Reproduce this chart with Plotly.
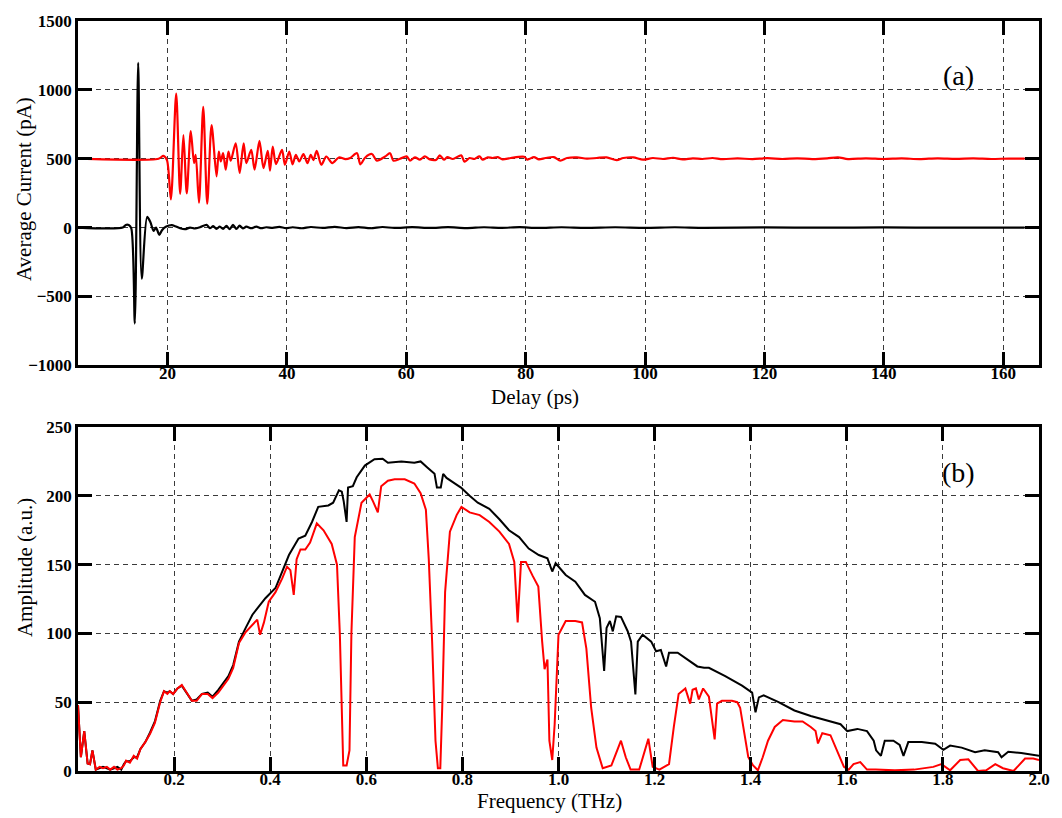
import plotly.graph_objects as go

# ---------------- (a) time-domain waveforms: (delay ps, current pA) ----------------
reference_pulse = [
    (5.0, 0), (12.5, 0), (13.0, 19), (13.5, 18), (13.92, -5), (14.52, -697),
    (15.08, 1196), (15.68, -372), (16.58, 77), (17.12, 40), (17.67, -24), (18.07, 0),
    (18.62, -53), (19.07, -19), (19.79, 7), (20.73, 17), (21.28, 10), (22.1, -5),
    (22.94, -12), (23.77, 0), (24.6, -7), (25.43, 2), (26.55, 19), (27.1, -5),
    (27.65, 10), (28.2, -10), (28.76, 7), (29.3, -10), (29.87, 12), (30.42, -12),
    (30.97, 19), (31.53, -10), (32.08, 14), (32.63, -7), (33.2, 7), (34.03, -5),
    (34.86, 7), (35.69, -5), (36.52, 2), (37.62, -2), (38.73, 5), (39.84, -5),
    (40.94, 2), (42.5, -5), (44.0, 4), (46.0, -3), (48.0, 5), (50.0, -4), (52.0, 3),
    (54.0, -5), (56.0, 4), (58.0, -3), (61.0, 3), (64.0, -3), (67.0, 3), (70.0, -4),
    (73.0, 2), (76.0, -2), (79.0, 3), (82.0, -3), (86.0, 2), (90.0, -2), (95.0, 2),
    (100.0, -2), (105.0, 2), (110.0, -2), (120.0, 1), (130.0, -1), (140.0, 1),
    (150.0, -1), (163.6, 0),
]

sample_pulse = [
    (5.0, 500), (18.5, 500), (19.3, 520), (19.9, 490), (20.56, 204), (21.45, 972),
    (22.11, 245), (22.66, 672), (23.22, 248), (23.89, 701), (24.44, 468), (24.72, 528),
    (25.27, 180), (25.98, 876), (26.65, 173), (27.38, 744), (28.21, 372), (28.59, 552),
    (28.92, 480), (29.31, 540), (29.75, 420), (30.2, 552), (30.58, 485), (31.42, 612),
    (32.08, 396), (32.75, 612), (33.2, 468), (34.02, 564), (34.58, 420), (35.4, 629),
    (36.07, 432), (36.79, 557), (37.17, 413), (37.62, 588), (38.17, 461), (39.17, 564),
    (39.67, 456), (40.39, 552), (40.95, 459), (41.5, 528), (42.06, 480), (42.77, 533),
    (43.44, 468), (43.99, 528), (44.44, 490), (44.99, 557), (45.77, 456), (46.6, 516),
    (47.6, 468), (48.7, 509), (49.8, 497), (50.6, 505), (51.74, 540), (52.3, 459),
    (53.13, 509), (54.24, 534), (55.07, 486), (56.46, 516), (57.29, 540), (57.84, 486),
    (58.96, 500), (60.05, 517), (60.62, 486), (61.45, 510), (62.28, 493), (63.11, 517),
    (63.94, 495), (65.04, 493), (65.6, 524), (66.32, 493), (66.87, 512), (67.81, 498),
    (69.2, 524), (69.76, 478), (70.59, 505), (71.42, 498), (72.25, 517), (72.8, 493),
    (73.63, 510), (74.46, 505), (75.29, 512), (76.12, 495), (77.5, 505), (79.73, 514),
    (80.28, 493), (81.39, 512), (82.22, 495), (83.32, 505), (84.72, 512), (85.81, 486),
    (86.93, 505), (88.59, 510), (90.25, 500), (91.91, 505), (93.57, 510), (95.24, 490),
    (96.35, 505), (98.01, 510), (99.67, 493), (101.3, 505), (103.0, 498), (104.7, 507),
    (106.3, 495), (108.0, 503), (109.6, 498), (111.3, 505), (113.0, 497), (115.5, 502),
    (118.0, 497), (120.5, 504), (123.0, 498), (125.5, 503), (128.0, 497), (130.5, 502),
    (132.3, 510), (134.0, 497), (137.0, 503), (140.0, 498), (143.0, 502), (146.0, 497),
    (149.0, 503), (152.0, 499), (155.0, 502), (158.0, 498), (161.0, 501), (163.6, 500),
]

# ---------------- (b) amplitude spectra: (frequency THz, amplitude a.u.) ----------------
reference_spectrum = [
    (0.0, 48), (0.006, 10), (0.013, 29), (0.02, 5.5), (0.025, 5), (0.03, 15),
    (0.037, 1), (0.045, 2), (0.052, 3), (0.06, 2), (0.067, 1), (0.075, 2), (0.082, 3),
    (0.09, 1), (0.0955, 5), (0.1, 7), (0.108, 7), (0.116, 10), (0.123, 10), (0.13, 16),
    (0.14, 21), (0.15, 28), (0.16, 36), (0.171, 51), (0.179, 58), (0.186, 57),
    (0.191, 58), (0.198, 56), (0.207, 60), (0.216, 62), (0.226, 57), (0.237, 51),
    (0.247, 52), (0.258, 56), (0.27, 57), (0.28, 54), (0.292, 59), (0.302, 64),
    (0.313, 69), (0.323, 77), (0.335, 94), (0.349, 104), (0.363, 113.6), (0.39, 125.6),
    (0.411, 133), (0.425, 145), (0.439, 157), (0.459, 169), (0.473, 171), (0.487, 181),
    (0.5, 192), (0.521, 193), (0.531, 195), (0.543, 204), (0.549, 203), (0.553, 196),
    (0.559, 181), (0.562, 206), (0.572, 207), (0.58, 213.5), (0.597, 222),
    (0.617, 226.6), (0.634, 227), (0.645, 224), (0.673, 225), (0.7, 224), (0.713, 225),
    (0.727, 220.6), (0.742, 216), (0.747, 206), (0.755, 206), (0.76, 216), (0.767, 213),
    (0.78, 210), (0.797, 206), (0.815, 200), (0.832, 195), (0.856, 190.5), (0.877, 183),
    (0.897, 175), (0.918, 170), (0.938, 161.7), (0.959, 157), (0.977, 154.6),
    (0.987, 145), (0.994, 151), (1.015, 142.5), (1.035, 137.6), (1.055, 128),
    (1.076, 123), (1.086, 111), (1.095, 72.7), (1.1, 104), (1.107, 109), (1.113, 101.5),
    (1.12, 112.4), (1.13, 112), (1.144, 101.6), (1.151, 94), (1.16, 55.7), (1.165, 94),
    (1.175, 99), (1.193, 94), (1.203, 87), (1.213, 88), (1.224, 76), (1.23, 86),
    (1.248, 86), (1.268, 81), (1.289, 76), (1.303, 75), (1.313, 75), (1.347, 69),
    (1.382, 62), (1.403, 57), (1.41, 42.6), (1.417, 53.5), (1.427, 55), (1.458, 50),
    (1.491, 44), (1.525, 40), (1.56, 36.6), (1.587, 34), (1.601, 29), (1.622, 30.6),
    (1.642, 29), (1.656, 22), (1.661, 15), (1.671, 11), (1.679, 22), (1.697, 22),
    (1.71, 19), (1.718, 11), (1.728, 21), (1.756, 21), (1.784, 19.8), (1.801, 15.4),
    (1.815, 18.5), (1.839, 17), (1.867, 13.7), (1.887, 15), (1.915, 13.7), (1.922, 10),
    (1.936, 14), (1.963, 13), (2.0, 11),
]

sample_spectrum = [
    (0.0, 48), (0.006, 10), (0.013, 29), (0.02, 5.5), (0.025, 5), (0.03, 15),
    (0.037, 1), (0.045, 3), (0.052, 2), (0.06, 3), (0.067, 1), (0.075, 3), (0.082, 1),
    (0.09, 2), (0.0955, 4), (0.1, 7.5), (0.108, 6), (0.116, 11), (0.123, 9), (0.13, 16),
    (0.14, 21), (0.15, 27), (0.16, 35), (0.171, 50), (0.179, 58), (0.186, 56),
    (0.191, 58), (0.198, 56), (0.207, 60), (0.216, 62.5), (0.226, 57), (0.237, 51),
    (0.247, 51), (0.258, 56), (0.27, 56), (0.28, 53), (0.292, 57), (0.302, 62),
    (0.313, 67), (0.323, 75), (0.335, 93), (0.349, 101), (0.363, 106), (0.373, 110),
    (0.379, 99), (0.387, 108), (0.397, 123), (0.411, 130), (0.425, 140), (0.435, 148.5),
    (0.442, 146), (0.449, 128), (0.455, 154), (0.463, 161), (0.473, 161), (0.483, 166),
    (0.497, 180), (0.511, 175), (0.528, 165), (0.539, 150), (0.545, 99), (0.552, 4),
    (0.559, 4), (0.565, 15), (0.569, 100), (0.576, 170), (0.59, 195), (0.607, 201),
    (0.614, 196), (0.624, 188), (0.631, 207), (0.645, 211), (0.659, 212), (0.68, 212),
    (0.7, 209), (0.713, 202), (0.724, 190), (0.73, 154), (0.737, 94), (0.744, 22),
    (0.749, 2), (0.754, 2), (0.758, 46), (0.764, 130), (0.774, 174), (0.788, 186),
    (0.798, 192), (0.815, 188), (0.836, 186), (0.856, 181), (0.877, 174), (0.897, 165),
    (0.908, 152), (0.915, 108), (0.922, 152), (0.932, 152), (0.946, 142), (0.958, 134),
    (0.966, 94), (0.971, 74), (0.977, 81), (0.981, 22), (0.987, 8), (0.992, 34),
    (1.0, 99), (1.015, 109), (1.035, 109), (1.049, 108), (1.058, 89), (1.068, 46),
    (1.079, 17), (1.092, 2), (1.11, 4), (1.12, 13), (1.13, 22), (1.14, 10), (1.15, 1),
    (1.168, 1), (1.179, 15), (1.187, 23.5), (1.196, 3), (1.21, 1), (1.22, 3), (1.23, 5),
    (1.24, 32), (1.25, 56), (1.264, 60), (1.274, 49), (1.279, 59), (1.286, 60),
    (1.292, 52), (1.301, 60), (1.313, 54), (1.321, 32), (1.325, 23), (1.33, 49),
    (1.34, 51), (1.361, 51), (1.372, 50), (1.378, 46), (1.385, 32), (1.395, 10),
    (1.405, 4), (1.415, 0.5), (1.425, 10), (1.436, 22), (1.45, 32), (1.467, 37),
    (1.491, 36), (1.508, 36), (1.525, 32), (1.535, 29), (1.54, 20), (1.549, 27.5),
    (1.566, 26), (1.58, 15), (1.594, 3), (1.604, 1), (1.614, 5), (1.628, 6.5),
    (1.642, 1), (1.66, 1), (1.7, 0.5), (1.74, 1), (1.78, 3), (1.797, 5), (1.815, 0.5),
    (1.836, 8), (1.853, 8.5), (1.873, 0), (1.89, 0.5), (1.909, 5), (1.925, 2),
    (1.947, 0), (1.971, 9), (1.988, 9), (2.0, 8),
]

delay_ticks = [20, 40, 60, 80, 100, 120, 140, 160]
current_ticks = [-1000, -500, 0, 500, 1000, 1500]
freq_ticks = [0.2, 0.4, 0.6, 0.8, 1.0, 1.2, 1.4, 1.6, 1.8, 2.0]
freq_tick_text = ["0.2", "0.4", "0.6", "0.8", "1.0", "1.2", "1.4", "1.6", "1.8", "2.0"]
amp_ticks = [0, 50, 100, 150, 200, 250]

SERIF = "Liberation Serif"
BLACK = "#000000"
RED = "#ff0000"


def unzip(pairs):
    return [p[0] for p in pairs], [p[1] for p in pairs]


fig = go.Figure()

t_ref, i_ref = unzip(reference_pulse)
t_smp, i_smp = unzip(sample_pulse)
f_ref, a_ref = unzip(reference_spectrum)
f_smp, a_smp = unzip(sample_spectrum)

# waveforms are drawn as smooth curves through the sampled extrema
wave_line = dict(width=2.2, shape="spline", smoothing=0.8)
fig.add_trace(go.Scatter(x=t_ref, y=i_ref, mode="lines", line=dict(wave_line, color=BLACK),
                         xaxis="x", yaxis="y", showlegend=False))
fig.add_trace(go.Scatter(x=t_smp, y=i_smp, mode="lines", line=dict(wave_line, color=RED),
                         xaxis="x", yaxis="y", showlegend=False))
fig.add_trace(go.Scatter(x=f_ref, y=a_ref, mode="lines", line=dict(color=BLACK, width=2),
                         xaxis="x2", yaxis="y2", showlegend=False))
fig.add_trace(go.Scatter(x=f_smp, y=a_smp, mode="lines", line=dict(color=RED, width=2),
                         xaxis="x2", yaxis="y2", showlegend=False))

axis_style = dict(
    showline=True, linecolor=BLACK, linewidth=2.5, mirror="ticks",
    ticks="inside", ticklen=14, tickwidth=2.5, tickcolor=BLACK,
    showgrid=True, gridcolor="#3a3a3a", gridwidth=1, griddash="5px,4px",
    zeroline=False,
    tickfont=dict(family=SERIF, size=17, color=BLACK, weight="bold"),
)

fig.update_layout(
    width=1062, height=818,
    margin=dict(l=78, r=15, t=15, b=47),
    paper_bgcolor="white", plot_bgcolor="white",
    xaxis=dict(axis_style, domain=[0, 1], range=[5, 166], anchor="y",
               tickvals=delay_ticks, ticklabelstandoff=-9),
    yaxis=dict(axis_style, domain=[0.541, 1], range=[-1000, 1500], anchor="x",
               tickvals=current_ticks),
    xaxis2=dict(axis_style, domain=[0, 1], range=[0, 2.0], anchor="y2",
                tickvals=freq_ticks, ticktext=freq_tick_text, ticklabelstandoff=-9),
    yaxis2=dict(axis_style, domain=[0, 0.4586], range=[0, 250], anchor="x2",
                tickvals=amp_ticks),
)

title_font = dict(family=SERIF, size=21, color=BLACK)
labels = [
    dict(text="Delay (ps)", x=0.4752, y=0.4985, textangle=0),
    dict(text="Frequency (THz)", x=0.4902, y=-0.0397, textangle=0),
    dict(text="Average Current (pA)", x=-0.0568, y=0.7765, textangle=-90),
    dict(text="Amplitude (a.u.)", x=-0.0557, y=0.2712, textangle=-90),
]
for lab in labels:
    fig.add_annotation(xref="paper", yref="paper", showarrow=False,
                       xanchor="center", yanchor="middle", font=title_font, **lab)

for tag, y in (("(a)", 0.9272), ("(b)", 0.3981)):
    fig.add_annotation(text=tag, xref="paper", yref="paper", x=0.9164, y=y,
                       showarrow=False, xanchor="center", yanchor="middle",
                       font=dict(family=SERIF, size=28, color=BLACK))

fig.write_html("out.html")
